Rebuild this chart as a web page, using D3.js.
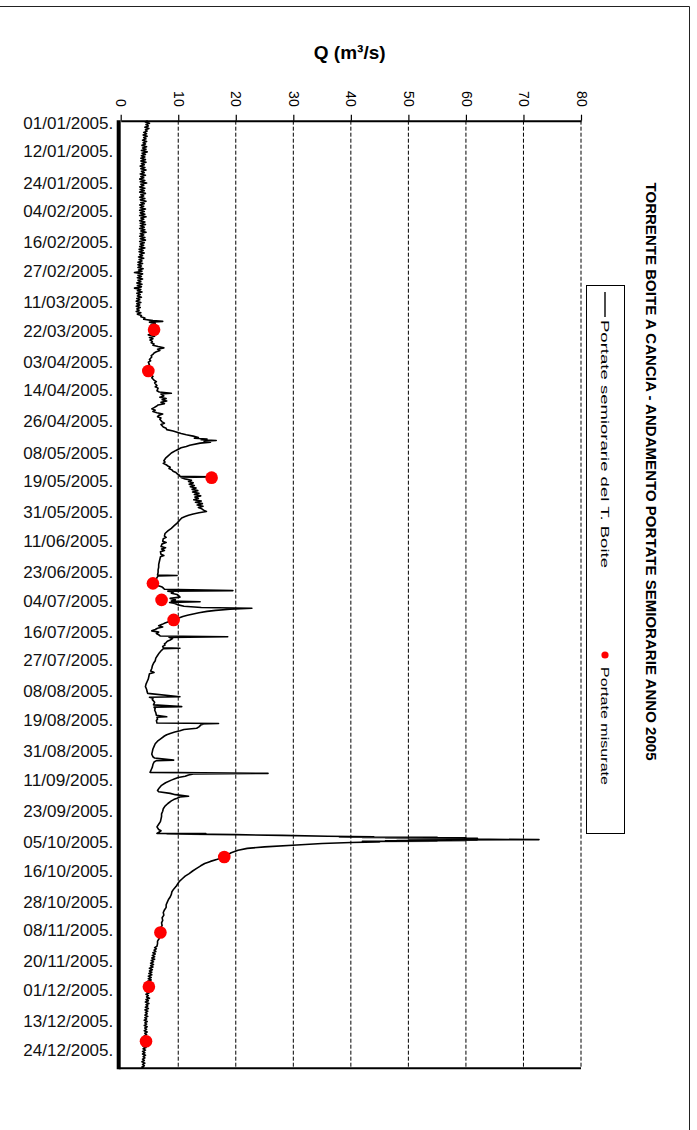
<!DOCTYPE html>
<html>
<head>
<meta charset="utf-8">
<script src="https://cdn.jsdelivr.net/npm/d3@7"></script>
<style>
  body { margin:0; background:#fff; }
  svg  { display:block; font-family:"Liberation Sans", Arial, sans-serif; }
</style>
</head>
<body>
<svg id="chart" width="697" height="1130"></svg>
<script>
// --- Dati ---
const titolo = "TORRENTE BOITE A CANCIA - ANDAMENTO PORTATE SEMIORARIE ANNO 2005";
const titoloAsse = "Q (m³/s)";
const tickQ = [0,10,20,30,40,50,60,70,80];
const etichetteDate = ["01/01/2005","12/01/2005","24/01/2005","04/02/2005","16/02/2005","27/02/2005",
  "11/03/2005","22/03/2005","03/04/2005","14/04/2005","26/04/2005","08/05/2005","19/05/2005",
  "31/05/2005","11/06/2005","23/06/2005","04/07/2005","16/07/2005","27/07/2005","08/08/2005",
  "19/08/2005","31/08/2005","11/09/2005","23/09/2005","05/10/2005","16/10/2005","28/10/2005",
  "08/11/2005","20/11/2005","01/12/2005","13/12/2005","24/12/2005"];
const legendaSerie = "Portate semiorarie del T. Boite";
const legendaMisure = "Portate misurate";

// portate ogni 12 ore dal 01/01/2005 00:00 (fino al 16/03)
const portateInverno = [
  4.7,4.3,5.0,4.4,4.8,4.2,4.9,4.3,4.6,4.0, 4.5,3.9,4.6,4.0,4.4,3.8,4.5,3.9,4.3,3.7,
  4.5,3.8,4.4,3.6,4.6,3.7,4.3,3.6,4.2,3.5, 4.3,3.5,4.4,3.6,4.1,3.4,4.2,3.5,4.4,3.6,
  4.1,3.4,4.3,3.5,4.0,3.3,4.2,3.4,4.5,3.5, 4.0,3.3,4.2,3.4,4.1,3.3,4.3,3.5,4.0,3.3,
  4.2,3.4,4.4,3.5,4.1,3.3,4.0,3.4,4.3,3.3, 4.1,3.4,4.2,3.3,4.4,3.5,4.0,3.3,4.2,3.4,
  4.3,3.4,4.1,3.3,4.2,3.5,4.4,3.4,4.0,3.3, 4.2,3.4,4.3,3.3,4.1,3.4,4.0,3.3,4.2,3.2,
  3.9,3.2,4.1,3.3,3.8,3.1,4.0,3.2,3.7,3.0, 3.8,3.0,3.6,3.0,3.9,3.1,3.7,2.4,3.8,3.0,
  3.6,2.9,3.8,3.0,3.5,2.8,3.7,2.9,3.6,2.4, 3.5,2.9,3.7,2.8,3.4,2.9,3.6,2.8,3.3,2.7,
  3.5,2.8,3.3,2.7,3.4,2.8,3.2,2.7,3.5,2.9, 3.6
];

// [giorni dal 01/01/2005 00:00, Q m3/s]
const portateResto = [
  [75.5,3.5],[76,4.2],[76.5,4.0],[77,5.6],[77.3,7.3],[77.6,5.0],[78,6.0],[78.5,5.3],[79,6.2],[79.5,5.4],
  [80,6.0],[80.5,5.6],[81,6.1],[81.5,5.2],[82,5.8],[82.5,4.8],[83,5.9],[83.5,5.0],[84,5.6],[84.5,5.1],
  [85,5.5],[85.5,5.3],[86,5.8],[86.5,5.6],[87,6.5],[87.5,7.5],[88,6.4],[88.5,6.8],[89,6.2],[89.5,5.8],
  [90,5.6],[90.5,5.3],[91,5.4],[92,5.0],[92.5,5.2],[93,4.8],[94,5.0],[94.5,4.7],[95,4.9],[96,4.8],
  [96.5,5.0],[97,4.9],[98,5.3],[98.5,5.6],[99,5.4],[100,5.8],[100.5,6.2],[101,5.9],[102,6.3],[102.5,6.0],
  [103,6.5],[104,6.3],[104.5,6.7],[105,8.8],[105.3,7.0],[106,7.5],[106.5,6.8],[107,7.9],[107.5,7.2],[108,8.0],
  [108.5,7.0],[109,7.6],[109.5,6.5],[110,6.2],[110.5,5.8],[111,5.4],[111.5,6.0],[112,5.6],[112.5,6.3],[113,7.3],
  [113.5,6.6],[114,6.4],[114.5,7.0],[115,6.8],[116,7.2],[116.5,7.6],[117,7.0],[118,7.4],[118.5,7.9],[119,8.0],
  [119.5,9.1],[120,9.8],[120.5,10.5],[121,11.4],[121.5,12.6],[122,13.5],[122.3,12.8],[122.6,15.0],[122.9,14.0],[123.2,16.6],
  [123.5,14.5],[123.8,15.6],[124.2,13.8],[125,12.0],[125.5,11.4],[126,10.5],[127,9.6],[128,8.8],[129,8.3],[130,7.8],
  [131,7.5],[131.5,7.7],[132,7.4],[132.5,7.9],[133,8.2],[133.5,8.6],[134,8.4],[134.5,8.9],[135,9.1],[135.5,9.6],
  [136,9.8],[136.5,10.2],[137,10.3],[137.2,15.4],[137.4,10.5],[138,11.2],[138.5,12.3],[139,11.8],[139.5,12.6],[140,11.9],
  [140.5,12.8],[141,12.1],[141.5,13.1],[142,12.4],[142.5,13.4],[143,12.5],[143.5,13.6],[144,12.8],[144.5,13.9],[145,12.9],
  [145.5,13.5],[146,12.7],[146.5,14.0],[147,13.0],[147.5,14.2],[148,13.3],[148.5,14.3],[149,13.5],[149.5,14.1],[150,14.4],
  [150.5,14.9],[151,13.6],[151.5,12.6],[152,11.8],[152.5,11.2],[153,10.6],[154,10.2],[155,9.8],[156,9.3],[157,8.8],
  [158,8.2],[159,7.7],[160,7.6],[160.5,7.9],[161,7.4],[162,7.3],[162.5,7.9],[163,7.2],[164,7.0],[164.5,7.8],
  [165,7.1],[165.5,7.6],[166,6.9],[167,7.0],[167.5,7.5],[168,6.9],[169,6.8],[170,6.7],[171,6.6],[172,6.6],
  [173,6.5],[174,6.5],[175,6.4],[175.2,9.8],[175.4,6.5],[176,6.3],[177,6.1],[178,5.8],[178.5,5.7],[179,6.4],
  [179.5,7.1],[180,7.4],[180.5,7.6],[181,19.5],[181.2,8.2],[181.5,9.2],[182,8.8],[182.5,9.8],[183,10.1],[183.5,10.3],
  [184,8.6],[184.5,9.5],[185,8.8],[185.3,13.8],[185.6,8.5],[186,9.4],[186.5,10.0],[187,11.0],[187.5,14.0],[187.8,22.8],
  [188.2,19.0],[188.6,16.5],[189,15.0],[189.5,13.6],[190,12.6],[190.5,11.6],[191,10.8],[191.5,10.2],[192,9.6],[192.5,9.0],
  [193,8.3],[193.5,7.7],[194,7.2],[194.5,6.6],[195,7.3],[195.5,6.4],[196,6.0],[196.5,5.4],[197,6.6],[197.5,6.2],
  [198,6.6],[198.5,6.9],[198.8,18.6],[199,8.4],[199.5,9.0],[200,8.6],[200.5,8.1],[201,7.9],[201.5,7.6],[202,7.7],
  [202.5,7.3],[203,7.4],[203.2,10.3],[203.4,7.4],[204,7.1],[205,6.7],[206,6.4],[207,6.1],[208,6.0],[209,5.7],
  [210,5.5],[211,5.4],[212,5.2],[212.5,5.8],[213,5.0],[214,4.9],[215,4.8],[216,4.6],[217,4.4],[218,4.3],
  [219,4.5],[220,4.6],[220.6,4.7],[221.9,10.3],[222.1,5.0],[222.5,5.6],[223,5.5],[224,5.9],[225,5.7],[225.7,10.6],
  [225.9,5.8],[226.5,6.0],[227,5.9],[228,6.1],[229,6.2],[229.6,8.0],[229.8,6.3],[230.5,6.4],[231,6.2],[232,6.3],
  [232.2,17.0],[232.4,14.4],[232.8,13.9],[233.5,13.6],[234,13.2],[234.5,11.0],[235,10.3],[235.5,9.4],[236,8.6],[236.5,8.0],
  [237,7.6],[238,7.0],[239,6.4],[240,6.0],[241,5.8],[242,5.6],[243,5.5],[244,5.4],[245,5.6],[245.5,5.9],
  [246.3,9.2],[246.5,6.2],[247,5.8],[248,5.6],[249,5.5],[250,5.3],[251,5.1],[251.4,25.6],[251.6,12.6],[252,11.8],
  [252.5,11.2],[253,10.0],[253.5,9.4],[254,8.8],[255,7.8],[256,7.1],[257,6.7],[258,6.4],[258.5,6.6],[259.1,8.6],
  [259.6,9.5],[260.2,11.8],[260.5,10.3],[261,9.8],[261.5,9.2],[262,8.8],[263,8.2],[264,7.7],[265,7.4],[266,7.3],
  [267,7.1],[268,7.1],[269,7.0],[270,6.9],[271,6.6],[272,6.3],[273,6.6],[273.5,7.0],[274,6.7],[274.5,6.3],
  // piena di ottobre
  [274.6,14.8],[274.7,8.0],[275.0,20.0],[275.3,28.0],[275.6,36.0],[275.8,44.0],[275.9,38.0],[276.0,55.0],[276.1,42.0],[276.2,60.0],
  [276.3,46.0],[276.4,62.0],[276.5,48.0],[276.6,58.0],[276.7,50.0],[276.8,64.0],[276.9,72.7],[277.0,56.0],[277.1,62.0],[277.2,50.0],
  [277.3,60.0],[277.4,46.0],[277.5,55.0],[277.6,42.0],[277.8,45.0],[278.0,40.0],[278.4,35.0],[279.0,30.6],[279.7,25.0],[280.3,22.0],
  [281,20.4],[282,19.2],[283,18.4],[283.6,18.0],[284.5,16.8],[285.3,15.6],[286.1,14.6],[287,13.9],[288,13.2],[289,12.5],
  [290,11.9],[291,11.2],[292,10.7],[293,10.2],[294,9.9],[295,9.6],[296,9.2],[297,8.9],[298,8.8],[299,8.6],
  [300,8.3],[301,8.1],[302,7.9],[303,7.9],[304,7.6],[305,7.4],[306,7.5],[307,7.2],[308,7.3],[309,7.1],
  [310,7.2],[311,6.9],[312,7.0],[313,6.8],[314,6.6],[315,6.7],[316,6.4],[317,6.4],[318,6.3],[318.5,5.9],
  [319,6.2],[319.5,5.8],[320,6.1],[320.5,5.6],[321,6.0],[321.5,5.5],[322,5.9],[322.5,5.4],[323,5.9],[323.5,5.3],
  [324,5.7],[324.5,5.2],[325,5.7],[325.5,5.2],[326,5.6],[326.5,5.0],[327,5.5],[327.5,5.0],[328,5.4],[328.5,4.9],
  [329,5.4],[329.5,4.8],[330,5.3],[330.5,4.8],[331,5.3],[331.5,4.7],[332,5.2],[332.5,4.7],[333,5.1],[333.5,4.6],
  [334,4.9],[334.5,4.6],[335,5.0],[335.5,4.5],[336,4.9],[336.5,4.4],[337,4.8],[337.5,4.5],[338,5.0],[338.5,4.4],
  [339,4.8],[339.5,4.3],[340,4.9],[340.5,4.4],[341,4.7],[341.5,4.3],[342,4.8],[342.5,4.2],[343,4.7],[343.5,4.3],
  [344,4.6],[344.5,4.2],[345,4.7],[345.5,4.2],[346,4.5],[346.5,4.1],[347,4.6],[347.5,4.2],[348,4.5],[348.5,4.1],
  [349,4.6],[349.5,4.2],[350,4.5],[350.5,4.1],[351,4.6],[351.5,4.2],[352,4.5],[352.5,4.1],[353,4.4],[353.5,4.0],
  [354,4.5],[354.5,4.1],[355,4.4],[355.5,4.0],[356,4.3],[356.5,3.9],[357,4.4],[357.5,3.9],[358,4.3],[358.5,3.8],
  [359,4.2],[359.5,3.8],[360,4.3],[360.5,3.9],[361,4.2],[361.5,3.8],[362,4.1],[362.5,3.7],[363,4.2],[363.5,3.8],
  [364,4.1],[364.5,3.7],[364.9,4.0]
];

// portate misurate (data ora, Q)
const misure = [
  ["22/03/2005 12:00",5.8],["07/04/2005 10:00",4.8],["18/05/2005 12:00",15.8],["28/06/2005 05:00",5.6],
  ["04/07/2005 14:00",7.1],["12/07/2005 07:00",9.2],["11/10/2005 14:00",18.0],["09/11/2005 17:00",6.9],
  ["30/11/2005 14:00",4.9],["21/12/2005 14:00",4.4]
];

// --- Setup ---
const svg = d3.select("#chart");
const t0 = Date.UTC(2005,0,1);
const giorno = d => new Date(t0 + d*864e5);
const parseData = d3.utcParse("%d/%m/%Y");
const parseOra  = d3.utcParse("%d/%m/%Y %H:%M");
const fmtData   = d3.utcFormat("%d/%m/%Y");

const serie = portateInverno.map((q,i)=>[i*0.5, q]).concat(portateResto)
  .map(([d,q]) => ({t: giorno(d), q}));

const x = d3.scaleLinear().domain([0,80]).range([120.7, 581]);
const y = d3.scaleUtc().domain([new Date(t0), new Date(Date.UTC(2006,0,1))]).range([120.7, 1068.3]);

// cornice esterna
svg.append("path").attr("d","M0,6.5H689.5V1135")
  .attr("fill","none").attr("stroke","#222").attr("stroke-width",1);

// griglia tratteggiata
svg.append("g").selectAll("line").data(tickQ.filter(v=>v>0)).join("line")
  .attr("x1",d=>x(d)).attr("x2",d=>x(d)).attr("y1",y.range()[0]).attr("y2",y.range()[1])
  .attr("stroke","#000").attr("stroke-width",1).attr("stroke-dasharray","4,2");

// bordo inferiore
svg.append("line").attr("x1",118.7).attr("x2",x(80)).attr("y1",y.range()[1]).attr("y2",y.range()[1])
  .attr("stroke","#000").attr("stroke-width",2);

// asse Q (in alto)
const gx = svg.append("g").attr("transform",`translate(0,${y.range()[0]})`)
  .call(d3.axisTop(x).tickValues(tickQ).tickSize(6).tickSizeOuter(0));
gx.select(".domain").attr("stroke-width",2);
gx.selectAll(".tick line").attr("stroke-width",1.2);
gx.selectAll(".tick text")
  .attr("x",null).attr("y",null).attr("dy","0.35em")
  .attr("transform","translate(0,-14) rotate(90)")
  .attr("text-anchor","end")
  .attr("font-size",14).attr("font-family","Liberation Sans, Arial, sans-serif");

// asse date (a sinistra)
const gy = svg.append("g").attr("transform","translate(118.7,0)")
  .call(d3.axisLeft(y).tickValues(etichetteDate.map(parseData)).tickSize(0).tickPadding(5.4)
        .tickFormat(d => fmtData(d) + "."));
gy.select(".domain").attr("stroke-width",4).attr("d",`M0,${y.range()[0]-0.5}V${y.range()[1]+1}`);
gy.selectAll(".tick text")
  .attr("y",2.5)
  .attr("font-size",16).attr("font-family","Liberation Sans, Arial, sans-serif")
  .attr("fill","#111")
  .attr("textLength",90).attr("lengthAdjust","spacingAndGlyphs");

// serie semioraria
svg.append("path").datum(serie)
  .attr("fill","none").attr("stroke","#000").attr("stroke-width",1.6).attr("stroke-linejoin","round")
  .attr("d", d3.line().x(d=>x(d.q)).y(d=>y(d.t)));

// portate misurate
svg.append("g").selectAll("circle").data(misure).join("circle")
  .attr("cx",d=>x(d[1])).attr("cy",d=>y(parseOra(d[0]))).attr("r",6.3).attr("fill","#ff0000");

// titolo asse
svg.append("text").attr("x",349.7).attr("y",52.5).attr("dy","0.35em")
  .attr("text-anchor","middle").attr("font-weight","bold").attr("font-size",19)
  .text(titoloAsse);

// titolo
svg.append("text").attr("transform","translate(651.5,471.5) rotate(90)").attr("dy","0.35em")
  .attr("text-anchor","middle").attr("font-weight","bold").attr("font-size",15)
  .attr("textLength",578).attr("lengthAdjust","spacing")
  .text(titolo);

// legenda
const lg = svg.append("g");
lg.append("rect").attr("x",586.5).attr("y",285.5).attr("width",38).attr("height",548)
  .attr("fill","#fff").attr("stroke","#000").attr("stroke-width",1);
lg.append("line").attr("x1",605).attr("x2",605).attr("y1",292).attr("y2",317)
  .attr("stroke","#000").attr("stroke-width",1.4);
lg.append("text").attr("transform","translate(605,320) rotate(90)").attr("dy","0.35em")
  .attr("font-size",11).attr("textLength",248).attr("lengthAdjust","spacingAndGlyphs")
  .text(legendaSerie);
lg.append("circle").attr("cx",605).attr("cy",655).attr("r",3.6).attr("fill","#ff0000");
lg.append("text").attr("transform","translate(605,667) rotate(90)").attr("dy","0.35em")
  .attr("font-size",11).attr("textLength",118).attr("lengthAdjust","spacingAndGlyphs")
  .text(legendaMisure);
</script>
</body>
</html>
